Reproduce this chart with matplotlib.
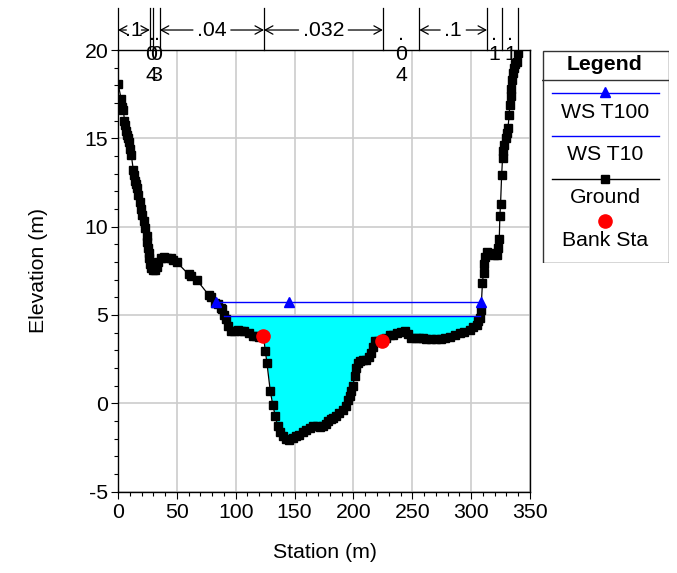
import matplotlib
matplotlib.use("Agg")
import matplotlib.pyplot as plt
import numpy as np
from matplotlib.patches import Rectangle
from matplotlib.ticker import MultipleLocator

plt.rcParams['font.family'] = ['Liberation Sans', 'DejaVu Sans']
plt.rcParams['axes.unicode_minus'] = False

# ---------------- data ----------------
ground_sta = [0, 2.8, 3.5, 4.5, 5.5, 6, 7, 7.9, 8.6, 9.4, 10.4, 11.3, 13.0, 13.6, 14.5, 15.5,
              16.4, 17.4, 18.5, 19.5, 20.7, 21.8, 23.0, 24.4, 25.0, 25.4, 26.0, 26.7, 27.5,
              28.4, 30, 31.5, 33, 34.3, 36.5, 39.2, 42, 44.8, 47, 49.7, 59.9, 62, 66.7, 76.9,
              79, 82.6, 84.6, 87.4, 88.3, 90, 91.7, 93.1, 96, 98.5, 101.6, 104.5, 107.3, 111,
              114.4, 117, 120, 123.5, 125.2, 126.5, 129.4, 131.5, 133.7, 135.6, 137.5, 139.9,
              142.5, 145.6, 149, 151.5, 154.1, 157, 160, 163, 165.5, 169, 172, 174, 176.5,
              178.3, 181, 183, 185.4, 188, 191, 193.9, 195.3, 196.7, 198, 199.5, 201, 202.4,
              203.5, 205.2, 208, 210.9, 213, 215.2, 216.5, 218, 221, 224.5, 228, 231, 233.6,
              237, 240, 243.6, 246, 249.2, 253, 256, 259.1, 262, 266, 270.5, 274, 278, 281.9,
              286, 290.4, 294, 298.9, 302, 304.6, 306, 307.4, 308.4, 309.6, 310.5, 311.2, 312.0,
              313.5, 316, 319, 321.6, 323.2, 323.9, 324.4, 325.0, 325.9, 326.7, 327.4, 328.3,
              329.4, 330.4, 331.3, 332.3, 332.8, 333.5, 334.2, 335, 335.8, 336.7, 337.6, 338.6,
              340.1]
ground_elev = [18.1, 17.2, 16.8, 16.6, 16.0, 15.75, 15.4, 15.2, 15.0, 14.8, 14.4, 14.06, 13.2,
               12.9, 12.6, 12.4, 12.2, 11.8, 11.4, 11.0, 10.67, 10.3, 9.9, 9.44, 9.1, 8.8, 8.5,
               8.2, 7.9, 7.67, 7.55, 7.55, 7.7, 8.0, 8.2, 8.3, 8.25, 8.25, 8.1, 8.0, 7.3, 7.2,
               7.0, 6.14, 6.0, 5.67, 5.6, 5.39, 5.33, 5.0, 4.77, 4.35, 4.07, 4.1, 4.16, 4.1,
               4.07, 3.95, 3.82, 3.78, 3.75, 3.82, 2.94, 2.28, 0.67, -0.1, -0.74, -1.31, -1.65,
               -1.87, -2.0, -2.06, -1.95, -1.85, -1.78, -1.65, -1.5, -1.4, -1.31, -1.3, -1.32,
               -1.31, -1.15, -1.02, -0.9, -0.85, -0.74, -0.55, -0.36, -0.17, 0.2, 0.39, 0.7,
               0.96, 1.52, 2.0, 2.25, 2.4, 2.45, 2.47, 2.6, 2.85, 3.2, 3.5, 3.5, 3.5, 3.7, 3.85,
               3.88, 4.0, 4.05, 4.07, 3.9, 3.69, 3.7, 3.7, 3.69, 3.65, 3.63, 3.64, 3.65, 3.7,
               3.75, 3.85, 3.98, 4.05, 4.16, 4.3, 4.45, 4.65, 4.82, 5.3, 6.8, 7.4, 7.9, 8.3,
               8.55, 8.5, 8.4, 8.4, 8.8, 9.3, 10.6, 11.3, 12.9, 13.9, 14.3, 14.6, 15.0, 15.3,
               15.6, 16.3, 16.9, 17.4, 17.8, 18.3, 18.7, 19.0, 19.2, 19.3, 19.85]

ws100_elev = 5.74
ws100_sta = [83.3, 145.6, 308.6]
ws10_elev = 4.93
ws10_sta = [90.4, 307.3]

bank_sta = [123.5, 224.5]
bank_elev = [3.82, 3.5]

n_bounds = [0, 27, 30, 35.5, 124, 225, 256, 313.5, 326, 340]
n_values = ['.1', '.04', '.03', '.04', '.032', '.04', '.1', '.1', '.1']
n_stacked = [False, True, True, False, False, True, False, True, True]

legend_labels = ['WS T100', 'WS T10', 'Ground', 'Bank Sta']

# ---------------- figure ----------------
W, H = 677, 573
fig = plt.figure(figsize=(W / 100, H / 100), dpi=100)
ax = fig.add_axes([118 / W, 1 - 491.5 / H, (530 - 118) / W, (491.5 - 50) / H])

FS = 15.3
BLUE = (0, 0, 1)
MS = 6.3

ax.set_xlim(0, 350)
ax.set_ylim(-5, 20)
ax.xaxis.set_major_locator(MultipleLocator(50))
ax.xaxis.set_minor_locator(MultipleLocator(10))
ax.yaxis.set_major_locator(MultipleLocator(5))
ax.yaxis.set_minor_locator(MultipleLocator(1))
ax.tick_params(which='major', direction='out', length=5, width=0.8, labelsize=FS)
ax.tick_params(which='minor', direction='out', length=3, width=0.8)
ax.tick_params(axis='x', pad=3)
ax.tick_params(axis='y', pad=2)
ax.grid(True, which='major', color='#cccccc', lw=1.2, zorder=0)
ax.set_axisbelow(True)
for s in ax.spines.values():
    s.set_linewidth(1.0)
    s.set_color('black')

gs = np.array(ground_sta)
ge = np.array(ground_elev)

# fill under WS T10
ax.fill_between(gs, np.minimum(ge, ws10_elev), ws10_elev,
                where=(gs > 85) & (gs < 310), interpolate=True, color='#00ffff', lw=0, zorder=2)

# ground
ax.plot(gs, ge, color='black', lw=0.9, marker='s', ms=MS, mfc='black', mec='black', zorder=4)

# WS lines
ax.plot(ws10_sta, [ws10_elev] * len(ws10_sta), color=BLUE, lw=1.0, zorder=5)
ax.plot(ws100_sta, [ws100_elev] * len(ws100_sta), color=BLUE, lw=1.0, marker='^', ms=6.5,
        mfc=BLUE, mec=BLUE, zorder=5)

# bank stations
ax.plot(bank_sta, bank_elev, ls='none', marker='o', ms=9.5, mfc='red', mec='red', zorder=6)

# ---------------- Manning's n annotations above axes ----------------
def py2y(py):
    return 20 + (50 - py) / 17.67

px_per_unit = 412 / 350.0
y_top = py2y(8)
y_arrow = py2y(30)
for b in n_bounds:
    ax.plot([b, b], [20, y_top], color='black', lw=0.9, clip_on=False, zorder=7)

char_w = {'.': 0.278}
for i, val in enumerate(n_values):
    x0, x1 = n_bounds[i], n_bounds[i + 1]
    xc = (x0 + x1) / 2
    if n_stacked[i]:
        for j, ch in enumerate(val):
            ax.text(xc, py2y(40 + 20.5 * j), ch, ha='center', va='baseline', fontsize=FS,
                    clip_on=False, zorder=8)
    else:
        tw = sum(char_w.get(c, 0.556) for c in val) * FS
        half_pts = (x1 - x0) / 2 * px_per_unit * 0.72
        shrink = min(tw / 2 + 3, half_pts - 6)
        ax.text(xc, y_arrow, val, ha='center', va='center', fontsize=FS, clip_on=False, zorder=8)
        for xe in (x0, x1):
            ax.annotate('', xy=(xe, y_arrow), xytext=(xc, y_arrow),
                        arrowprops=dict(arrowstyle='->,head_length=0.55,head_width=0.3',
                                        lw=0.9, color='black', shrinkA=shrink, shrinkB=0),
                        annotation_clip=False)

# axis labels
fig.text(38 / W, 1 - 270 / H, 'Elevation (m)', rotation=90, ha='center', va='center', fontsize=FS)
fig.text(325 / W, 1 - 552 / H, 'Station (m)', ha='center', va='center', fontsize=FS)

# ---------------- legend ----------------
L0, L1, T0, T1 = 542, 669, 50, 263
lax = fig.add_axes([L0 / W, 1 - T1 / H, (L1 - L0) / W, (T1 - T0) / H])
lax.set_xlim(L0, L1)
lax.set_ylim(T1, T0)
lax.axis('off')
lax.add_patch(Rectangle((L0 + 0.5, T0 + 0.5), L1 - L0 - 1, T1 - T0 - 1, fill=False,
                        ec='#333333', lw=1.0))
lax.plot([L0, L1], [80, 80], color='#333333', lw=1.0)
xm = 605
lax.text(xm, 65, 'Legend', ha='center', va='center', fontsize=FS, fontweight='bold')
lax.plot([552, 659], [93, 93], color=BLUE, lw=1.0)
lax.plot([xm], [92], marker='^', ms=6.5, color=BLUE)
lax.text(xm, 112, legend_labels[0], ha='center', va='center', fontsize=FS)
lax.plot([552, 659], [136, 136], color=BLUE, lw=1.0)
lax.text(xm, 154, legend_labels[1], ha='center', va='center', fontsize=FS)
lax.plot([552, 659], [179, 179], color='black', lw=1.0)
lax.plot([xm], [179], marker='s', ms=MS, color='black')
lax.text(xm, 197, legend_labels[2], ha='center', va='center', fontsize=FS)
lax.plot([xm], [221], marker='o', ms=9.5, color='red')
lax.text(xm, 240, legend_labels[3], ha='center', va='center', fontsize=FS)

fig.savefig('out.png', dpi=100)
